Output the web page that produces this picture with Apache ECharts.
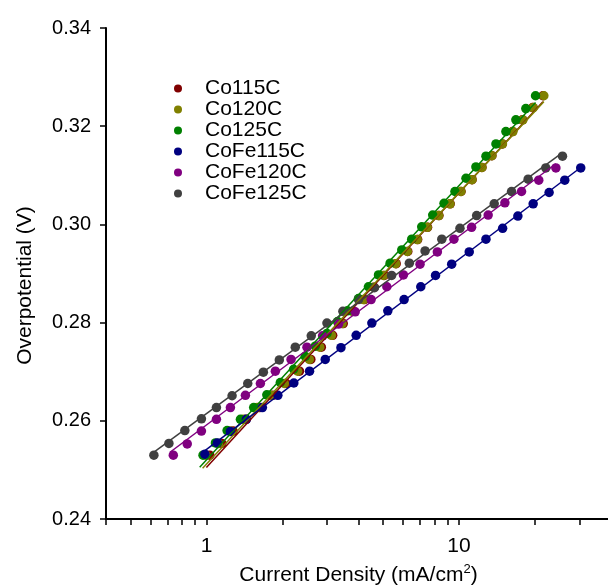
<!DOCTYPE html>
<html><head><meta charset="utf-8">
<script src="https://cdn.jsdelivr.net/npm/echarts@6/dist/echarts.min.js"></script>
<style>html,body{margin:0;padding:0;background:#fff}#c{width:608px;height:585px}</style>
</head><body><div id="c"></div>
<script>
const seriesNames = ['Co115C','Co120C','Co125C','CoFe115C','CoFe120C','CoFe125C'];
const colors = ['#800000','#808000','#008000','#000080','#800080','#404040'];

const xCo115 = [1.03,1.15,1.275,1.435,1.625,1.83,2.07,2.335,2.59,2.85,3.16,3.48,3.82,4.22,4.62,5.06,5.64,6.27,6.86,7.51,8.33,9.23,10.19,11.27,12.33,13.5,14.85,16.3,17.85,19.6,21.5];
const yCo115 = [0.2530,0.2554,0.2579,0.2603,0.2627,0.2652,0.2676,0.2701,0.2725,0.2750,0.2774,0.2798,0.2823,0.2847,0.2872,0.2896,0.2920,0.2945,0.2969,0.2994,0.3018,0.3042,0.3067,0.3091,0.3116,0.3140,0.3164,0.3189,0.3213,0.3238,0.3262];

const xCo120 = [0.995,1.115,1.241,1.400,1.588,1.791,2.034,2.296,2.554,2.810,3.125,3.442,3.787,4.184,4.584,5.021,5.61,6.242,6.838,7.487,8.314,9.214,10.18,11.26,12.33,13.50,14.86,16.35,17.91,19.70,21.68];
const yCo120 = [0.2530,0.2554,0.2579,0.2603,0.2627,0.2652,0.2676,0.2701,0.2725,0.2750,0.2774,0.2798,0.2823,0.2847,0.2872,0.2896,0.2920,0.2945,0.2969,0.2994,0.3018,0.3042,0.3067,0.3091,0.3116,0.3140,0.3164,0.3189,0.3213,0.3238,0.3262];

const xCo125 = [0.969,1.085,1.207,1.363,1.538,1.734,1.961,2.214,2.462,2.697,3.000,3.304,3.618,3.999,4.38,4.80,5.337,5.936,6.50,7.12,7.87,8.727,9.64,10.66,11.67,12.79,14.01,15.34,16.80,18.40,20.10];
const yCo125 = [0.2530,0.2555,0.2580,0.2603,0.2627,0.2653,0.2678,0.2705,0.2731,0.2752,0.2778,0.2802,0.2824,0.2849,0.2873,0.2897,0.2921,0.2948,0.2970,0.2995,0.3019,0.3043,0.3067,0.3094,0.3117,0.3139,0.3164,0.3189,0.3213,0.3236,0.3262];

const xCoFe115 = [0.986,1.105,1.244,1.439,1.665,1.917,2.218,2.560,2.953,3.408,3.916,4.518,5.226,6.062,7.058,8.075,9.357,10.98,12.79,14.89,17.11,19.67,22.75,26.24,30.35];
const yCoFe115 = [0.2532,0.2555,0.2578,0.2603,0.2627,0.2652,0.2677,0.2701,0.2725,0.2749,0.2774,0.2799,0.2824,0.2847,0.2873,0.2896,0.2919,0.2944,0.2970,0.2992,0.3017,0.3042,0.3065,0.3090,0.3115];

const xCoFe120 = [0.739,0.839,0.955,1.095,1.244,1.426,1.635,1.874,2.162,2.500,2.883,3.334,3.881,4.488,5.18,6.025,7.01,8.21,9.55,11.22,13.05,15.2,17.69,20.7,24.2];
const yCoFe120 = [0.2530,0.2553,0.2579,0.2603,0.2627,0.2652,0.2676,0.2701,0.2725,0.2750,0.2773,0.2797,0.2822,0.2847,0.2873,0.2897,0.2919,0.2944,0.2970,0.2994,0.3019,0.3044,0.3067,0.3090,0.3115];

const xCoFe125 = [0.619,0.710,0.821,0.955,1.095,1.263,1.457,1.680,1.943,2.247,2.600,3.000,3.469,4.000,4.626,5.41,6.36,7.34,8.55,10.09,11.75,13.79,16.15,18.79,22.07,25.7];
const yCoFe125 = [0.2530,0.2554,0.2580,0.2604,0.2627,0.2651,0.2676,0.2699,0.2724,0.2750,0.2773,0.2799,0.2823,0.2847,0.2871,0.2896,0.2921,0.2946,0.2970,0.2992,0.3018,0.3042,0.3067,0.3092,0.3115,0.3139];

const xMajorTicks = [1,10];
const xMinorTicks = [0.4,0.5,0.6,0.7,0.8,0.9,1,2,3,4,5,6,7,8,9,10,20,30,40];
const yMin = 0.24, yMax = 0.34, yStep = 0.02;

const xs = [xCo115,xCo120,xCo125,xCoFe115,xCoFe120,xCoFe125];
const ys = [yCo115,yCo120,yCo125,yCoFe115,yCoFe120,yCoFe125];

// Tafel (semi-log) least-squares fit of each series
function fitLine(x, y){
  const lx = x.map(v=>Math.log10(v));
  const n = lx.length;
  const mx = lx.reduce((a,b)=>a+b,0)/n, my = y.reduce((a,b)=>a+b,0)/n;
  let sxy=0,sxx=0;
  for(let i=0;i<n;i++){sxy+=(lx[i]-mx)*(y[i]-my);sxx+=(lx[i]-mx)*(lx[i]-mx);}
  const b = sxy/sxx, a = my-b*mx;
  const x0 = x[0]*0.97, x1 = x[n-1];
  return [[x0, a+b*Math.log10(x0)],[x1, a+b*Math.log10(x1)]];
}

const FONT = 'Liberation Sans, Arial, sans-serif';
const series = [];
seriesNames.forEach((nm,i)=>{
  series.push({
    name: nm, type:'scatter', symbol:'circle', symbolSize:9.5,
    itemStyle:{color:colors[i], opacity:1},
    data: xs[i].map((v,j)=>[v, ys[i][j]]), z:2, silent:true
  });
});
seriesNames.forEach((nm,i)=>{
  series.push({
    name: nm+'_fit', type:'line', showSymbol:false, symbol:'none',
    lineStyle:{color:colors[i], width:1.5},
    data: fitLine(xs[i], ys[i]), z:3, silent:true
  });
});

const chart = echarts.init(document.getElementById('c'), null, {renderer:'canvas'});
chart.setOption({
  animation:false,
  backgroundColor:'#fff',
  grid:{left:106, top:28, right:-3, bottom:66, containLabel:false, outerBoundsMode:'none'},
  legend:{
    data: seriesNames.map(n=>({name:n, icon:'circle'})),
    orient:'vertical', left:169, top:73,
    itemWidth:44, itemHeight:8, itemGap:0,
    textStyle:{fontFamily:FONT, fontSize:21, color:'#000', lineHeight:21},
    selectedMode:false
  },
  xAxis:[{
    type:'log', logBase:10, min:0.4, max:40,
    name:'Current Density (mA/cm{sup|2})', nameLocation:'middle', nameGap:44,
    nameTextStyle:{fontFamily:FONT, fontSize:21, color:'#000',
      rich:{sup:{fontSize:13, verticalAlign:'top', padding:[0,0,12,0], fontFamily:FONT, color:'#000'}}},
    axisLine:{show:true, onZero:false, lineStyle:{color:'#000', width:2}},
    axisTick:{show:true, inside:false, length:6, lineStyle:{color:'#000', width:1.5}, customValues:xMinorTicks},
    axisLabel:{show:true, margin:17, fontFamily:FONT, fontSize:21, color:'#000', customValues:xMajorTicks,
      formatter:v=>String(Math.round(v*1000)/1000)},
    splitLine:{show:false}, minorTick:{show:false}
  }],
  yAxis:[{
    type:'value', min:yMin, max:yMax, interval:yStep,
    name:'Overpotential (V)', nameLocation:'middle', nameGap:70,
    nameTextStyle:{fontFamily:FONT, fontSize:21, color:'#000', padding:[0,24,0,0]},
    axisLine:{show:true, onZero:false, lineStyle:{color:'#000', width:2}},
    axisTick:{show:true, inside:false, length:6, lineStyle:{color:'#000', width:1.5}},
    axisLabel:{fontFamily:FONT, fontSize:20, color:'#000', margin:15, formatter:v=>v.toFixed(2)},
    splitLine:{show:false}
  }],
  series: series
});
</script></body></html>
